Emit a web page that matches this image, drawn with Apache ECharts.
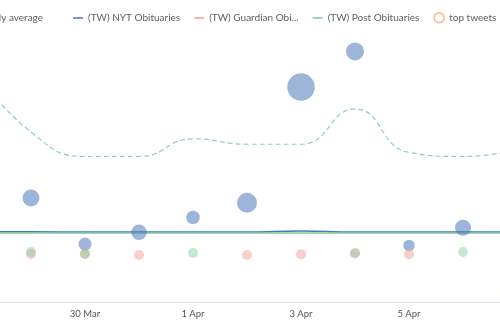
<!DOCTYPE html>
<html>
<head>
<meta charset="utf-8">
<script src="https://cdn.jsdelivr.net/npm/echarts@6/dist/echarts.min.js"></script>
<style>
html,body{margin:0;padding:0;width:500px;height:330px;overflow:hidden;background:#fff;}
#c{position:absolute;left:-120px;top:0;width:660px;height:330px;}
</style>
</head>
<body>
<div id="c"></div>
<script>
// ---- data ----
const dates = ['28 Mar','29 Mar','30 Mar','31 Mar','1 Apr','2 Apr','3 Apr','4 Apr','5 Apr','6 Apr','7 Apr'];
const weeklyAverage = [84, 62.5, 53.5, 53.5, 60, 58, 58, 71, 55, 53.5, 56];
const nytLine   = [25.8, 25.8, 25.7, 25.7, 25.7, 25.7, 26.1, 25.7, 25.7, 25.7, 25.7];
const postLine  = [25.4, 25.4, 25.4, 25.4, 25.4, 25.4, 25.4, 25.4, 25.4, 25.4, 25.4];
// top tweets: value (y) and engagement (bubble size)
const nytTweets      = [null, 38.2, 21.3, 25.6, 31.1, 36.5, 79.0, 92.1, 20.8, 27.3, null];
const nytEngagement  = [null, 72, 42, 60, 46, 100, 189, 81, 33, 64, null];
const guardianTweets = [null, 17.6, 17.8, 17.3, null, 17.3, 17.6, 17.9, 17.6, null, null];
const postTweets     = [null, 18.4, 17.6, null, 18.0, null, null, 17.9, null, 18.4, null];
const legendFirst = ['Weekly average'];
const legendRest  = ['(TW) NYT Obituaries','(TW) Guardian Obituaries','(TW) Post Obituaries','top tweets'];

const C_NYT = '#4a78b8', C_GUA = '#f4a090', C_POST = '#7ccb9c', C_TOP = '#f5a65b', C_AVG = '#8fd3ab';
const LINE_ICON = 'path://M0,0L10,0L10,0Z M0,5L10,5L10,6.4L0,6.4Z M0,11L10,11L10,11Z';

function pts(arr){ return arr.map((v,i)=> v==null ? null : [dates[i], v]).filter(Boolean); }
function bubbles(arr, sz){ return arr.map((v,i)=> v==null ? null : [dates[i], v, sz[i]]).filter(Boolean); }
function legendItems(names){
  return names.map(n=> n==='top tweets'
    ? {name:n, icon:'circle', itemStyle:{color:'rgba(255,255,255,0)', borderColor:C_TOP, borderWidth:1.5}}
    : {name:n, icon:LINE_ICON});
}
const legendText = {color:'#5a5f66', fontSize:10, fontFamily:'Lato', width:94, overflow:'truncate'};

const chart = echarts.init(document.getElementById('c'), null, {renderer:'canvas'});
chart.setOption({
  animation:false,
  textStyle:{fontFamily:'Lato'},
  legend:[
    {right:492, top:7, padding:5, itemWidth:10, itemHeight:11, itemGap:10,
      data:legendItems(legendFirst), textStyle:legendText},
    {left:188, top:7, padding:5, itemWidth:10, itemHeight:11, itemGap:14,
      data:legendItems(legendRest), textStyle:legendText}
  ],
  grid:{left:97, right:23, top:30, bottom:28, containLabel:false},
  xAxis:{
    type:'category', boundaryGap:false, data:dates,
    axisLine:{lineStyle:{color:'#d6e2f0', width:1}},
    axisTick:{show:false},
    axisLabel:{interval:1, color:'#555', fontSize:9.5, margin:7, fontFamily:'Lato'},
    splitLine:{show:false}
  },
  yAxis:{type:'value', min:0, max:100, show:false, splitLine:{show:false}},
  series:[
    {name:'Weekly average', type:'line', smooth:true, symbol:'none', data:weeklyAverage,
      lineStyle:{color:C_AVG, width:1.2, type:[5,3]}, itemStyle:{color:C_AVG}, z:2},
    {name:'(TW) Guardian Obituaries', type:'line', smooth:true, symbol:'none', data:[],
      lineStyle:{color:C_GUA, width:1.5}, itemStyle:{color:C_GUA}},
    {name:'(TW) NYT Obituaries', type:'line', smooth:true, symbol:'none', data:nytLine,
      lineStyle:{color:C_NYT, width:1.5}, itemStyle:{color:C_NYT}, z:3},
    {name:'(TW) Post Obituaries', type:'line', smooth:true, symbol:'none', data:postLine,
      lineStyle:{color:C_POST, width:1.5}, itemStyle:{color:C_POST}, z:3},
    {name:'top tweets', type:'scatter', data:[], symbol:'circle',
      itemStyle:{color:'rgba(255,255,255,0)', borderColor:C_TOP, borderWidth:1.5}},
    {name:'NYT tweets', type:'scatter', data:bubbles(nytTweets, nytEngagement),
      symbolSize:d=>2*Math.sqrt(d[2]), itemStyle:{color:C_NYT, opacity:0.55}, z:4},
    {name:'Guardian tweets', type:'scatter', data:pts(guardianTweets), symbolSize:10,
      itemStyle:{color:C_GUA, opacity:0.5}, z:4},
    {name:'Post tweets', type:'scatter', data:pts(postTweets), symbolSize:10,
      itemStyle:{color:C_POST, opacity:0.45}, z:4}
  ]
});
</script>
</body>
</html>
